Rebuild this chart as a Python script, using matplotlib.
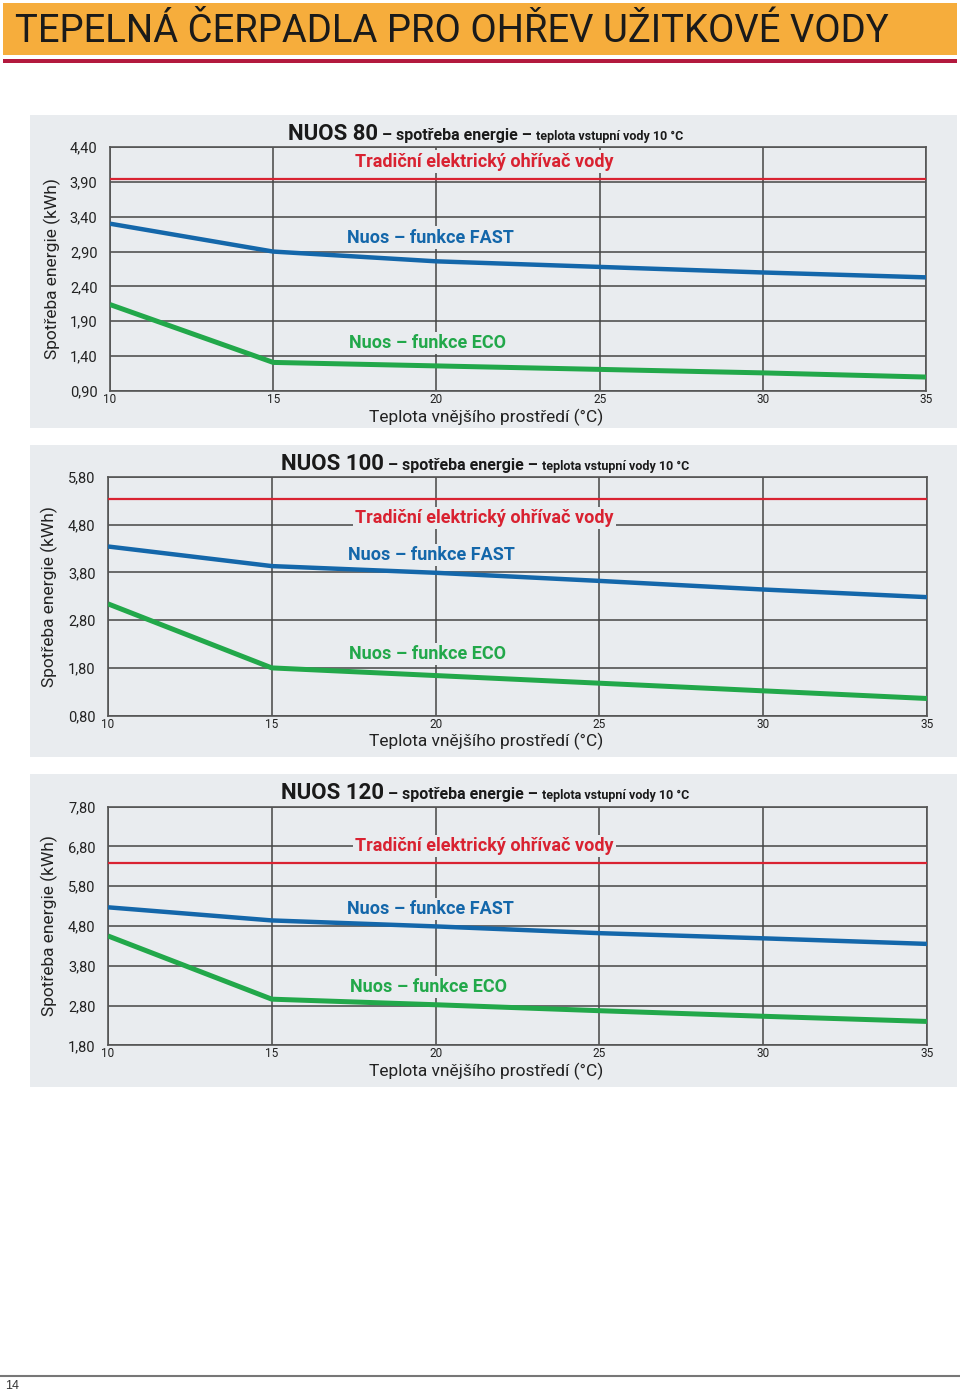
import matplotlib
matplotlib.use("Agg")
import matplotlib.pyplot as plt
from matplotlib.patches import Rectangle
from matplotlib.lines import Line2D

plt.rcParams['font.family'] = ['Roboto', 'DejaVu Sans']

# Data
temps = [10, 15, 20, 25, 30, 35]

nuos80_fast = [3.30, 2.90, 2.76, 2.68, 2.60, 2.53]
nuos80_eco = [2.14, 1.31, 1.26, 1.21, 1.16, 1.10]
nuos80_trad = 3.94
nuos80_ticks = [0.90, 1.40, 1.90, 2.40, 2.90, 3.40, 3.90, 4.40]

nuos100_fast = [4.34, 3.93, 3.79, 3.62, 3.44, 3.28]
nuos100_eco = [3.14, 1.80, 1.64, 1.48, 1.32, 1.16]
nuos100_trad = 5.33
nuos100_ticks = [0.80, 1.80, 2.80, 3.80, 4.80, 5.80]

nuos120_fast = [5.27, 4.94, 4.79, 4.62, 4.49, 4.35]
nuos120_eco = [4.55, 2.96, 2.82, 2.67, 2.53, 2.40]
nuos120_trad = 6.38
nuos120_ticks = [1.80, 2.80, 3.80, 4.80, 5.80, 6.80, 7.80]

page_title = "TEPELNÁ ČERPADLA PRO OHŘEV UŽITKOVÉ VODY"
label_trad = "Tradiční elektrický ohřívač vody"
label_fast = "Nuos – funkce FAST"
label_eco = "Nuos – funkce ECO"
ylabel = "Spotřeba energie (kWh)"
xlabel = "Teplota vnějšího prostředí (°C)"

W, H = 960, 1394
PANEL = '#E9ECEF'
RED = '#D92231'
BLUE = '#1467AA'
GREEN = '#22A84A'
GRID = '#454545'

fig = plt.figure(figsize=(W / 100, H / 100), dpi=100)


def fx(px):
    return px / W


def fy(py):
    return 1 - py / H


# banner
fig.patches.append(Rectangle((fx(3), fy(55)), fx(954), 52 / H, transform=fig.transFigure,
                             facecolor='#F6AD3C', edgecolor='none', zorder=-10))
fig.patches.append(Rectangle((fx(3), fy(63)), fx(954), 4 / H, transform=fig.transFigure,
                             facecolor='#B3193E', edgecolor='none', zorder=-10))
fig.text(fx(15), fy(31), page_title, fontsize=27.5, color='#1a1a1a', va='center', ha='left')

# footer
fig.lines.append(Line2D([0, 1], [fy(1376), fy(1376)], transform=fig.transFigure,
                        color='#777777', lw=1.5))
fig.text(fx(5), fy(1386), "14", fontsize=9, color='#333333', va='center',
         family=['Liberation Sans', 'DejaVu Sans'])

renderer = fig.canvas.get_renderer()


def chart_title(x_px, y_px, name):
    parts = [(name, 16), (" – spotřeba energie – ", 11.5), ("teplota vstupní vody 10 °C", 9)]
    x = fx(x_px)
    for txt, size in parts:
        t = fig.text(x, fy(y_px), txt, fontsize=size, fontweight='bold', color='#1a1a1a',
                     va='baseline', ha='left')
        bb = t.get_window_extent(renderer)
        x += bb.width / W


def chart(panel, box, ticks, fast, eco, trad, labels, name, title_xy, ylab_x):
    top, bottom = panel
    fig.patches.append(Rectangle((fx(30), fy(bottom)), fx(927), (bottom - top) / H,
                                 transform=fig.transFigure, facecolor=PANEL, edgecolor='none',
                                 zorder=-10))
    left, right, atop, abot = box
    ax = fig.add_axes([fx(left), fy(abot), fx(right - left), (abot - atop) / H])
    ax.set_facecolor(PANEL)
    ax.set_xlim(10, 35)
    ax.set_ylim(ticks[0], ticks[-1])
    ax.set_xticks(temps)
    ax.set_yticks(ticks)
    ax.set_yticklabels([f"{v:.2f}".replace('.', ',') for v in ticks], fontsize=10.5, color='#222222')
    ax.set_xticklabels([str(t) for t in temps], fontsize=8.5, color='#222222')
    ax.tick_params(axis='y', length=0, pad=9)
    ax.tick_params(axis='x', length=0, pad=1.5)
    ax.grid(True, color=GRID, lw=1.1, zorder=1)
    ax.set_axisbelow(True)
    for s in ax.spines.values():
        s.set_color('#555555')
        s.set_linewidth(1.2)
    ax.axhline(trad, color=RED, lw=1.6, zorder=3)
    ax.plot(temps, fast, color=BLUE, lw=3.2, zorder=4, solid_capstyle='butt')
    ax.plot(temps, eco, color=GREEN, lw=3.6, zorder=4, solid_capstyle='butt')

    ax.set_ylabel(ylabel, fontsize=12.5, color='#222222')
    ax.yaxis.label.set_va('center')
    ax.yaxis.set_label_coords((ylab_x - left) / (right - left), 0.5, transform=ax.transAxes)
    ax.set_xlabel(xlabel, fontsize=12.5, color='#222222')
    ax.xaxis.label.set_va('center')
    ax.xaxis.set_label_coords((486 - left) / (right - left), -26 / (abot - atop),
                              transform=ax.transAxes)

    box_style = dict(facecolor=PANEL, edgecolor='none', pad=1.5)
    (tx, ty), (fx_, fy_), (ex, ey) = labels
    ax.text(tx, ty, label_trad, color=RED, fontsize=13, fontweight='bold', va='center',
            ha='left', bbox=box_style, zorder=5)
    ax.text(fx_, fy_, label_fast, color=BLUE, fontsize=13, fontweight='bold', va='center',
            ha='left', bbox=box_style, zorder=5)
    ax.text(ex, ey, label_eco, color=GREEN, fontsize=13, fontweight='bold', va='center',
            ha='left', bbox=box_style, zorder=5)
    chart_title(title_xy[0], title_xy[1], name)
    return ax


chart((115, 428), (110, 926, 147, 391), nuos80_ticks, nuos80_fast, nuos80_eco, nuos80_trad,
      [(17.51, 4.19), (17.26, 3.10), (17.32, 1.59)], "NUOS 80", (288, 140), 52)
chart((445, 757), (108, 927, 476.7, 715.7), nuos100_ticks, nuos100_fast, nuos100_eco, nuos100_trad,
      [(17.54, 4.94), (17.33, 4.16), (17.36, 2.09)], "NUOS 100", (281, 470), 49)
chart((774, 1087), (108, 927, 806.7, 1045.3), nuos120_ticks, nuos120_fast, nuos120_eco, nuos120_trad,
      [(17.54, 6.81), (17.30, 5.23), (17.39, 3.27)], "NUOS 120", (281, 799), 49)

fig.savefig("out.png", dpi=100)
